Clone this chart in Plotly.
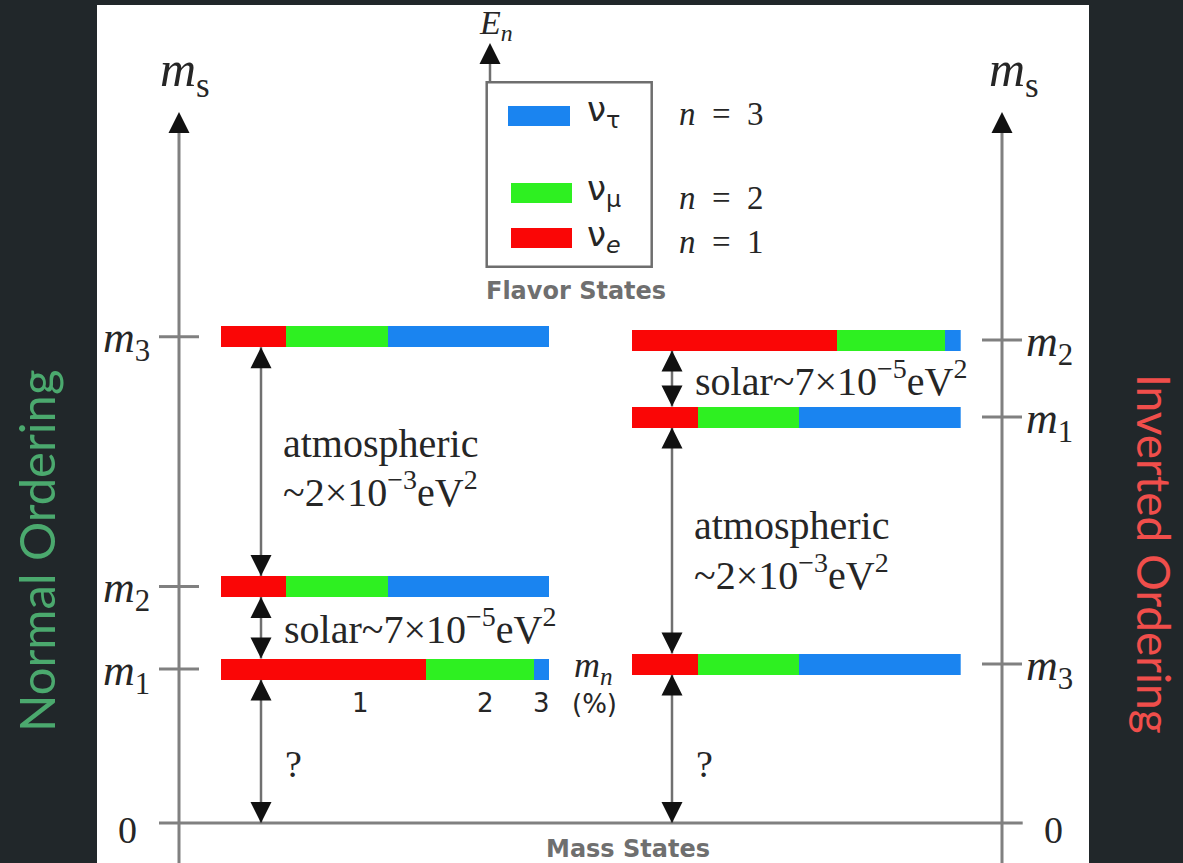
import plotly.graph_objects as go

W, H = 1183, 863

# ---------------- data ----------------
# Normal ordering: mass levels (arbitrary schematic units) and flavor content (%)
no_levels = ["m1", "m2", "m3"]
no_mass = [1.54, 2.365, 4.863]
no_e = [62.5, 20.0, 20.0]
no_mu = [32.7, 30.8, 30.8]
no_tau = [4.8, 49.2, 49.2]

# Inverted ordering
io_levels = ["m3", "m1", "m2"]
io_mass = [1.59, 4.06, 4.83]
io_e = [20.0, 20.0, 62.5]
io_mu = [30.8, 30.8, 32.7]
io_tau = [49.2, 49.2, 4.8]

flavor_names = ["ν<sub><i>e</i></sub>", "ν<sub>μ</sub>", "ν<sub>τ</sub>"]
flavor_n = ["<i>n</i>&nbsp;&nbsp;=&nbsp;&nbsp;1", "<i>n</i>&nbsp;&nbsp;=&nbsp;&nbsp;2",
            "<i>n</i>&nbsp;&nbsp;=&nbsp;&nbsp;3"]
pct_labels = ["1", "2", "3"]
pct_pos = [42.5, 80.5, 97.5]

# ---------------- styles ----------------
DARK = "#21272a"
RED = "#fa0606"
GREEN = "#2ef021"
BLUE = "#1a84f0"
GRAY = "#808080"
BOXGRAY = "#6e6e6e"
TXT = "#262626"
SERIF = "Liberation Serif"
SANS = "DejaVu Sans"
BAR_W = 0.21
ZERO_PX = 823.0
UNIT = 100.0


def px(x):
    return x / W


def py(y):
    return 1 - y / H


def vy(y):
    return (ZERO_PX - y) / UNIT


fig = go.Figure()

for xs, col in [(no_e, RED), (no_mu, GREEN), (no_tau, BLUE)]:
    fig.add_trace(go.Bar(orientation="h", y=no_mass, x=xs, width=BAR_W,
                         marker=dict(color=col, line=dict(width=0)),
                         xaxis="x", yaxis="y", showlegend=False, hoverinfo="skip"))
for xs, col in [(io_e, RED), (io_mu, GREEN), (io_tau, BLUE)]:
    fig.add_trace(go.Bar(orientation="h", y=io_mass, x=xs, width=BAR_W,
                         marker=dict(color=col, line=dict(width=0)),
                         xaxis="x2", yaxis="y", showlegend=False, hoverinfo="skip"))

shapes = []
anns = []

# white panel
shapes.append(dict(type="rect", xref="paper", yref="paper", x0=px(97), x1=px(1089),
                   y0=0, y1=py(5), fillcolor="white", line=dict(width=0), layer="below"))


def vline(xp, y0, y1, color=GRAY, w=3):
    shapes.append(dict(type="line", xref="paper", yref="y", x0=xp, x1=xp, y0=y0, y1=y1,
                       line=dict(color=color, width=w), layer="below"))


def hline(x0, x1, yv, color=GRAY, w=3):
    shapes.append(dict(type="line", xref="paper", yref="y", x0=x0, x1=x1, y0=yv, y1=yv,
                       line=dict(color=color, width=w), layer="below"))


def head(xp, yv, up=True, yref="y"):
    anns.append(dict(x=xp, y=yv, xref="paper", yref=yref, ax=0, ay=(13 if up else -13),
                     axref="pixel", ayref="pixel", showarrow=True, arrowhead=2,
                     arrowsize=2.1, arrowwidth=2, arrowcolor="#111111", text=""))


def darrow(xp, ylo, yhi):
    vline(xp, ylo, yhi, color="#707070", w=2.5)
    head(xp, yhi, up=True)
    head(xp, ylo, up=False)


def txt(x, y, text, size, family=SERIF, color=TXT, xanchor="center", yanchor="middle",
        yref="paper", angle=0, weight=None):
    f = dict(size=size, family=family, color=color)
    if weight:
        f["weight"] = weight
    anns.append(dict(x=x, y=y, xref="paper", yref=yref, text=text, showarrow=False,
                     font=f, xanchor=xanchor, yanchor=yanchor, textangle=angle))


# vertical mass axes
top_v = vy(112)
vline(px(179), -1, top_v - 0.05)
vline(px(1002), -1, top_v - 0.05)
head(px(179), top_v, up=True)
head(px(1002), top_v, up=True)
# zero line
hline(px(159), px(1022.7), 0)
txt(px(127), py(830), "0", 38)
txt(px(1053), py(830), "0", 38)

# ticks + level labels
half = BAR_W / 2
for lab, v in zip(no_levels, no_mass):
    hline(px(159), px(199), v)
    txt(px(152), v - 0.04, "<i>m</i><sub>%s</sub>" % lab[1], 44, xanchor="right", yref="y")
for lab, v in zip(io_levels, io_mass):
    hline(px(982), px(1022), v)
    txt(px(1024), v - 0.04, "<i>m</i><sub>%s</sub>" % lab[1], 44, xanchor="left", yref="y")

# difference arrows (normal)
ax_no = px(261)
darrow(ax_no, no_mass[1] + half, no_mass[2] - half)
darrow(ax_no, no_mass[0] + half, no_mass[1] - half)
darrow(ax_no, 0, no_mass[0] - half)
# difference arrows (inverted)
ax_io = px(672)
darrow(ax_io, io_mass[1] + half, io_mass[2] - half)
darrow(ax_io, io_mass[0] + half, io_mass[1] - half)
darrow(ax_io, 0, io_mass[0] - half)

# texts near arrows
atm1 = "atmospheric"
atm2 = "~2×10<sup>−3</sup>eV<sup>2</sup>"
sol = "solar~7×10<sup>−5</sup>eV<sup>2</sup>"
txt(px(281), py(443), atm1, 40, xanchor="left")
txt(px(281), py(490), atm2, 40, xanchor="left")
txt(px(282), py(626), sol, 40, xanchor="left")
txt(px(693), py(378), sol, 40, xanchor="left")
txt(px(692), py(525), atm1, 40, xanchor="left")
txt(px(692), py(572), atm2, 40, xanchor="left")
txt(px(293), py(764), "?", 38)
txt(px(704), py(764), "?", 38)

# percentage labels under normal m1 bar
for lab, p in zip(pct_labels, pct_pos):
    x_pix = 220.5 + p / 100 * (549.3 - 220.5)
    txt(px(x_pix), py(703), lab, 26, family=SANS)
txt(px(593), py(667), "<i>m</i><sub><i>n</i></sub>", 36)
txt(px(594), py(704), "(%)", 26, family=SANS)

# m_s axis titles
txt(px(185), py(73), "<i>m</i><sub>s</sub>", 50)
txt(px(1014), py(73), "<i>m</i><sub>s</sub>", 50)

# flavor legend box
shapes.append(dict(type="rect", xref="paper", yref="paper", x0=px(486.7), x1=px(651.7),
                   y0=py(266.7), y1=py(82.3), line=dict(color=BOXGRAY, width=2.5),
                   fillcolor="rgba(0,0,0,0)", layer="below"))
shapes.append(dict(type="line", xref="paper", yref="paper", x0=px(490), x1=px(490),
                   y0=py(82.3), y1=py(52), line=dict(color="#707070", width=2.5), layer="below"))
head(px(490), py(43), up=True, yref="paper")
txt(px(496), py(25), "<i>E</i><sub><i>n</i></sub>", 34)

sw_y = [238, 193, 116]
sw_x = [(511, 572), (511, 572), (508, 570)]
lab_y = [236, 190, 112]
n_y = [242, 198, 114]
for col, yc, (xa, xb), nm, ly, nl, ny in zip([RED, GREEN, BLUE], sw_y, sw_x, flavor_names,
                                              lab_y, flavor_n, n_y):
    shapes.append(dict(type="rect", xref="paper", yref="paper", x0=px(xa), x1=px(xb),
                       y0=py(yc + 10), y1=py(yc - 10), fillcolor=col, line=dict(width=0),
                       layer="below"))
    txt(px(585), py(ly), nm, 34, family=SANS, xanchor="left")
    txt(px(677), py(ny), nl, 33, xanchor="left")

txt(px(576), py(291), "Flavor States", 24, family=SANS, color="#6f6f6f", weight="bold")
txt(px(628), py(849), "Mass States", 24, family=SANS, color="#6f6f6f", weight="bold")

# side titles
txt(px(36), py(551), "Normal Ordering", 49, family="Lato", color="#4ba96e", angle=-90)
txt(px(1155), py(554), "Inverted Ordering", 46, family="Lato", color="#f04e4b", angle=90)

fig.update_layout(
    width=W, height=H, margin=dict(l=0, r=0, t=0, b=0),
    paper_bgcolor=DARK, plot_bgcolor=DARK, barmode="stack", showlegend=False,
    xaxis=dict(domain=[px(220.5), px(549.3)], range=[0, 100], visible=False, fixedrange=True),
    xaxis2=dict(domain=[px(631.7), px(960.7)], range=[0, 100], visible=False,
                anchor="y", fixedrange=True),
    yaxis=dict(domain=[0, 1], range=[-(H - ZERO_PX) / UNIT, ZERO_PX / UNIT], visible=False,
               fixedrange=True),
    shapes=shapes, annotations=anns,
)

fig.write_html("out.html", config={"displayModeBar": False},
               post_script="document.body.style.margin='0';document.body.style.overflow='hidden';")
